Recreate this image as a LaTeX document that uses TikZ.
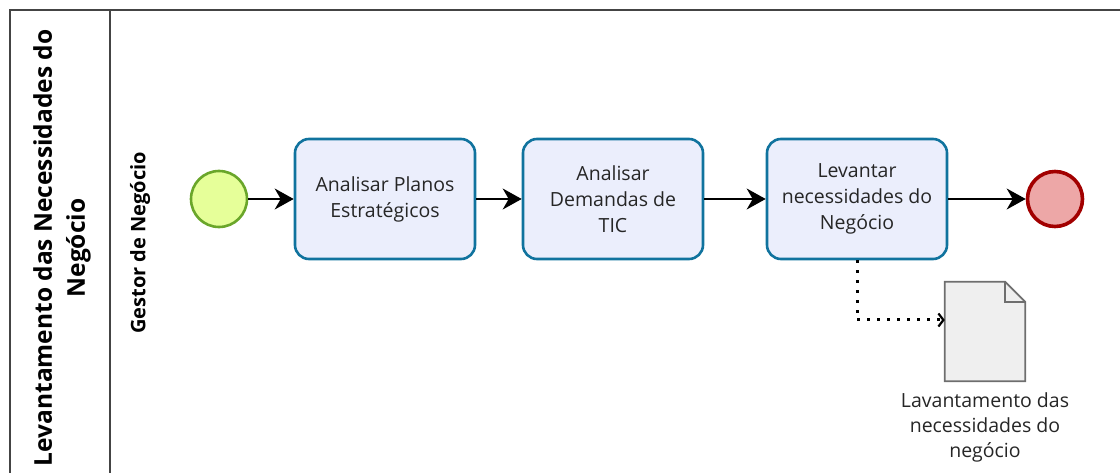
\documentclass[tikz,border=0pt]{standalone}
\usepackage{fontspec}
\setmainfont{Open Sans}
\usetikzlibrary{arrows.meta}
\definecolor{taskstroke}{HTML}{10739E}
\definecolor{taskfill}{HTML}{EBEEFC}
\definecolor{startfill}{HTML}{E6FF99}
\definecolor{startstroke}{HTML}{6AA62A}
\definecolor{endfill}{HTML}{EDA7A7}
\definecolor{endstroke}{HTML}{A20000}
\definecolor{docfill}{HTML}{EFEFEF}
\definecolor{docstroke}{HTML}{6E6E6E}
\definecolor{poolline}{HTML}{444444}
\tikzset{
  task/.style={draw=taskstroke, line width=2.6pt, fill=taskfill, rounded corners=14pt,
    minimum width=180pt, minimum height=120pt, align=center, font=\fontsize{19.5}{26}\selectfont, text=black!85},
  startev/.style={circle, draw=startstroke, line width=2.6pt, fill=startfill, minimum size=56pt, inner sep=0pt},
  endev/.style={circle, draw=endstroke, line width=3.6pt, fill=endfill, minimum size=55pt, inner sep=0pt},
  flow/.style={line width=1.8pt, -{Stealth[length=19pt, width=21pt, inset=6pt]}},
  assoc/.style={line width=3pt, dash pattern=on 3pt off 7pt, -{Straight Barb[length=5pt, width=13pt, line width=2.2pt]}},
  pool/.style={draw=poolline, line width=1.8pt}
}
\begin{document}
\begin{tikzpicture}[x=1pt, y=-1pt]
\useasboundingbox (0,0) rectangle (1120,473);
% pool and lane frame
\draw[pool] (10,490) -- (10,10) -- (1130,10);
\draw[pool] (110,10) -- (110,490);
\node[rotate=90, align=center, font=\fontsize{24.5}{33}\bfseries\selectfont] (pooltitle) at (62,248)
  {Levantamento das Necessidades do\\Negócio};
\node[rotate=90, font=\fontsize{20}{22}\bfseries\selectfont] (lanetitle) at (140,243) {Gestor de Negócio};
% events and tasks
\node[startev] (start) at (219,199) {};
\node[task] (t1) at (385,199) {Analisar Planos\\Estratégicos};
\node[task] (t2) at (613,199) {Analisar\\Demandas de\\TIC};
\node[task] (t3) at (857,199) {Levantar\\necessidades do\\Negócio};
\node[endev] (end) at (1055,199) {};
% data object
\node[minimum width=80pt, minimum height=99pt, inner sep=0pt] (doc) at (985,331.5) {};
\draw[draw=docstroke, fill=docfill, line width=1.8pt]
  (doc.north west) -- ([xshift=-20pt]doc.north east) -- ([yshift=-20pt]doc.north east)
  -- (doc.south east) -- (doc.south west) -- cycle;
\draw[draw=docstroke, line width=1.8pt]
  ([xshift=-20pt]doc.north east) -- ([xshift=-20pt, yshift=-20pt]doc.north east) -- ([yshift=-20pt]doc.north east);
\node[align=center, font=\fontsize{19.5}{25}\selectfont, text=black!85, anchor=north] (doclabel) at (985,389)
  {Lavantamento das\\necessidades do\\negócio};
% flows
\draw[flow] (start) -- (t1);
\draw[flow] (t1) -- (t2);
\draw[flow] (t2) -- (t3);
\draw[flow] (t3) -- (end);
\coordinate (bend) at (857,320);
\draw[assoc] (t3.south) -- (bend) -- (doc.west |- bend);
\end{tikzpicture}
\end{document}
